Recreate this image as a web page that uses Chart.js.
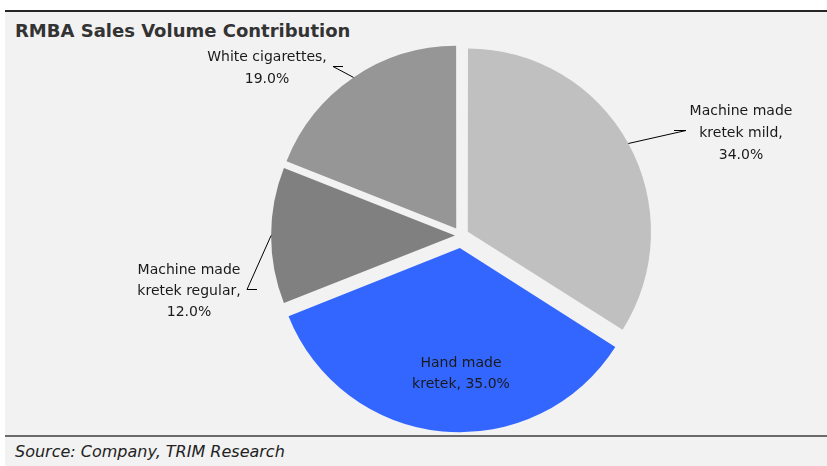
<!DOCTYPE html>
<html>
<head>
<meta charset="utf-8">
<script src="https://cdn.jsdelivr.net/npm/chart.js@4/dist/chart.umd.min.js"></script>
<style>
  html, body { margin: 0; padding: 0; background: #ffffff; }
  #wrap { position: relative; width: 827px; height: 466px; overflow: hidden; background: #ffffff; }
  #panel { position: absolute; left: 5px; top: 12px; width: 822px; height: 454px; background: #f2f2f2; }
  #topline { position: absolute; left: 5px; top: 10px; width: 822px; height: 2px; background: #262626; }
  #botline { position: absolute; left: 5px; top: 435px; width: 822px; height: 2px; background: #6b6b6b; }
  #title { position: absolute; left: 15px; top: 22px; font: bold 18px "DejaVu Sans", sans-serif; line-height: 18px; color: #333333; white-space: pre; }
  #source { position: absolute; left: 15px; top: 444px; font: oblique 16px "DejaVu Sans", sans-serif; line-height: 16px; color: #222222; white-space: pre; }
  #c { position: absolute; left: 0; top: 0; }
</style>
</head>
<body>
<div id="wrap">
  <div id="panel"></div>
  <div id="topline"></div>
  <div id="botline"></div>
  <div id="title">RMBA Sales Volume Contribution</div>
  <div id="source">Source: Company, TRIM Research</div>
  <canvas id="c" width="827" height="466"></canvas>
</div>
<script>
// ---- data ----
const categories = ['Machine made kretek mild', 'Hand made kretek', 'Machine made kretek regular', 'White cigarettes'];
const shares = [34.0, 35.0, 12.0, 19.0];
const labelLines = [
  ['Machine made', 'kretek mild,', '34.0%'],
  ['Hand made', 'kretek, 35.0%'],
  ['Machine made', 'kretek regular,', '12.0%'],
  ['White cigarettes,', '19.0%']
];

// ---- style ----
const colors = ['#c0c0c0', '#3366ff', '#808080', '#969696'];
const explode = [31, 50, 24, 34];
// label layout relative to chart centre: text centre x, first baseline y, elbow points
const labelLayout = [
  { tx: 280, ty: -121, lh: 22, leader: [[225, -105], [213, -105]] },
  { tx: 0,   ty: 131,  lh: 21, leader: null },
  { tx: -272, ty: 38,  lh: 21, leader: [[-214, 54], [-204, 54]] },
  { tx: -194, ty: -175, lh: 22, leader: [[-128, -169], [-118, -169]] }
];

const labelPlugin = {
  id: 'sliceLabels',
  afterDatasetsDraw(chart) {
    const ctx = chart.ctx;
    const meta = chart.getDatasetMeta(0);
    const ca = chart.chartArea;
    const cx = (ca.left + ca.right) / 2, cy = (ca.top + ca.bottom) / 2;
    ctx.save();
    ctx.font = '14px "DejaVu Sans", sans-serif';
    ctx.textAlign = 'center';
    ctx.textBaseline = 'alphabetic';
    meta.data.forEach((arc, i) => {
      const p = arc.getProps(['x', 'y', 'startAngle', 'endAngle', 'outerRadius', 'circumference'], true);
      const off = (arc.options.offset || 0) / 4;
      const fix = 1 - Math.sin(Math.min(Math.PI, p.circumference));
      const disp = off * (1 + fix);
      const mid = (p.startAngle + p.endAngle) / 2;
      const vx = p.x + Math.cos(mid) * disp, vy = p.y + Math.sin(mid) * disp;
      const ex = vx + Math.cos(mid) * p.outerRadius, ey = vy + Math.sin(mid) * p.outerRadius;
      const L = labelLayout[i];
      if (L.leader) {
        ctx.strokeStyle = '#000000';
        ctx.lineWidth = 1;
        ctx.beginPath();
        ctx.moveTo(ex, ey);
        L.leader.forEach(pt => ctx.lineTo(cx + pt[0], cy + pt[1]));
        ctx.stroke();
      }
      ctx.fillStyle = '#1a1a1a';
      labelLines[i].forEach((t, k) => ctx.fillText(t, cx + L.tx, cy + L.ty + k * L.lh));
    });
    ctx.restore();
  }
};

new Chart(document.getElementById('c'), {
  type: 'pie',
  data: {
    labels: categories,
    datasets: [{
      data: shares,
      backgroundColor: colors,
      borderWidth: 0,
      offset: explode,
      hoverOffset: 0
    }]
  },
  options: {
    responsive: false,
    animation: false,
    devicePixelRatio: 1,
    radius: 182,
    layout: { padding: { left: 95, right: 0, top: 5, bottom: 0 } },
    plugins: { legend: { display: false }, tooltip: { enabled: false } }
  },
  plugins: [labelPlugin]
});
</script>
</body>
</html>
